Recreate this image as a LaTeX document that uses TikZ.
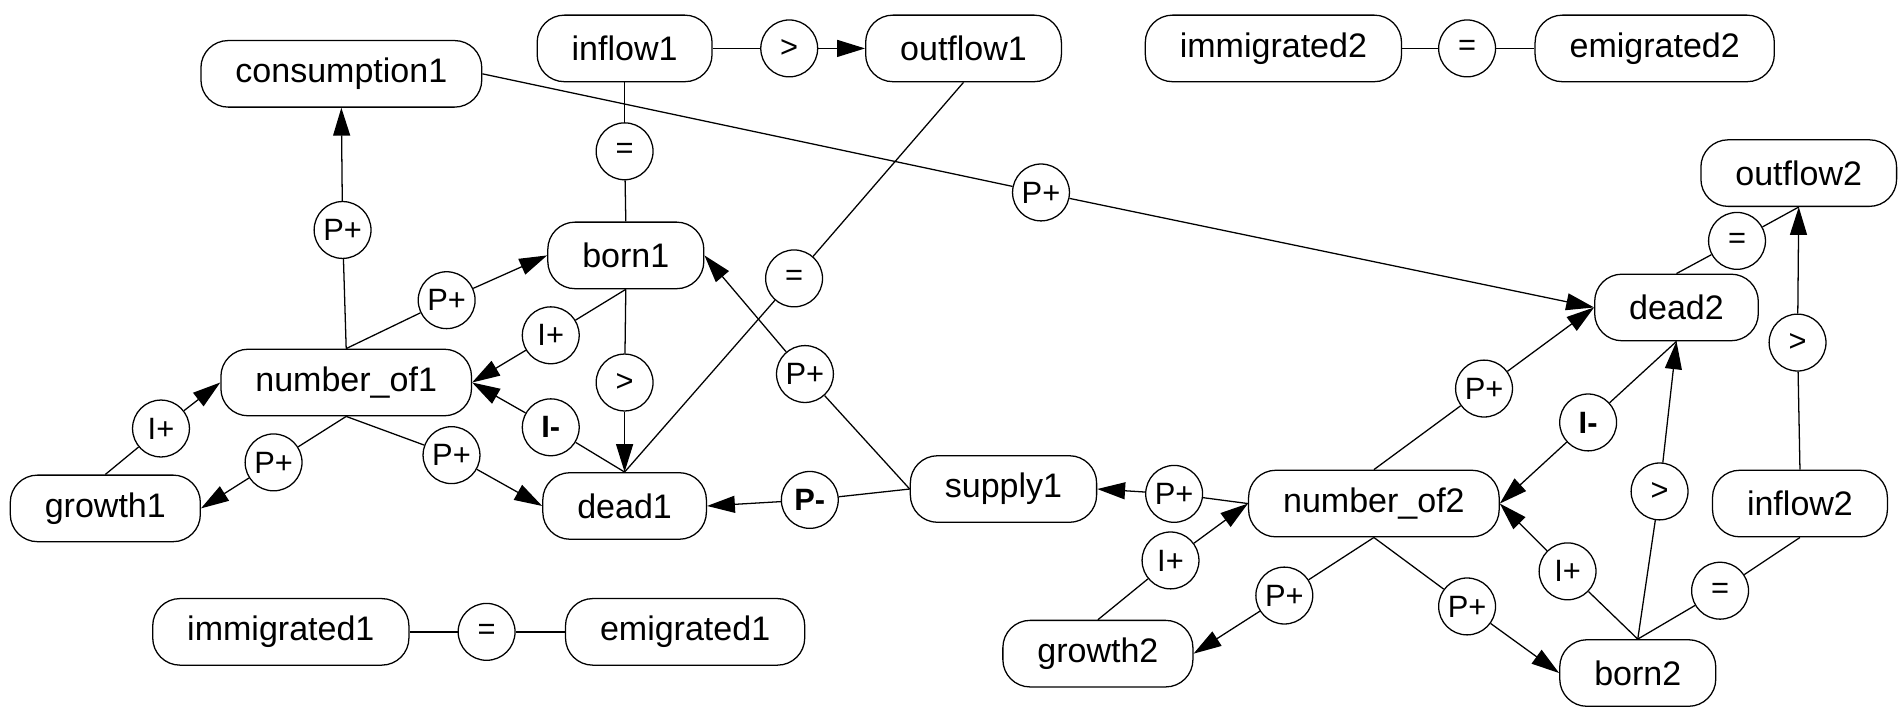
\documentclass[tikz,border=0pt]{standalone}
\usepackage{fontspec}
\setmainfont{Liberation Sans}
\usetikzlibrary{arrows.meta}

\begin{document}
\begin{tikzpicture}[x=0.02cm,y=-0.02cm,line width=0.6pt,->,>={Triangle[length=0.46cm,width=0.28cm]},
  qty/.style={draw,rounded corners=0.45cm,minimum height=1.1cm,inner xsep=0.57cm,font=\fontsize{16}{19}\selectfont},
  rel/.style={circle,draw,minimum size=0.94cm,inner sep=0pt,font=\fontsize{14.5}{17}\selectfont}]
  \useasboundingbox (0,0) rectangle (1568,584);

  % quantities
  \node[qty] (cons1) at (282,61) {consumption1};
  \node[qty] (in1) at (516,40) {inflow1};
  \node[qty] (out1) at (796,40) {outflow1};
  \node[qty] (imm2) at (1052,40) {immigrated2};
  \node[qty] (emi2) at (1367,40) {emigrated2};
  \node[qty] (born1) at (517,211) {born1};
  \node[qty] (out2) at (1486,143) {outflow2};
  \node[qty] (dead2) at (1385,254) {dead2};
  \node[qty] (nof1) at (286,316) {number\_of1};
  \node[qty] (grow1) at (87,420) {growth1};
  \node[qty] (dead1) at (516,418) {dead1};
  \node[qty] (sup1) at (829,404) {supply1};
  \node[qty] (nof2) at (1135,416) {number\_of2};
  \node[qty] (in2) at (1487,416) {inflow2};
  \node[qty] (imm1) at (232,522) {immigrated1};
  \node[qty] (emi1) at (566,522) {emigrated1};
  \node[qty] (grow2) at (907,540) {growth2};
  \node[qty] (born2) at (1353,556) {born2};

  % relations
  \node[rel] (r1) at (652,40) {>};
  \node[rel] (r2) at (516,125) {=};
  \node[rel] (r3) at (860,159) {P+};
  \node[rel] (r4) at (283,190) {P+};
  \node[rel] (r5) at (369,248) {P+};
  \node[rel] (r6) at (656,230) {=};
  \node[rel] (r7) at (455,277) {I+};
  \node[rel] (r8) at (516,316) {>};
  \node[rel] (r9) at (665,309) {P+};
  \node[rel] (r10) at (455,353) {\bfseries I-};
  \node[rel] (r11) at (133,354) {I+};
  \node[rel] (r12) at (226,382) {P+};
  \node[rel] (r13) at (373,376) {P+};
  \node[rel] (r14) at (669,413) {\bfseries P-};
  \node[rel] (r15) at (970,408) {P+};
  \node[rel] (r16) at (402,522) {=};
  \node[rel] (r17) at (1212,40) {=};
  \node[rel] (r18) at (1435,199) {=};
  \node[rel] (r19) at (1485,283) {>};
  \node[rel] (r20) at (1226,321) {P+};
  \node[rel] (r21) at (1312,349) {\bfseries I-};
  \node[rel] (r22) at (1371,406) {>};
  \node[rel] (r23) at (967,463) {I+};
  \node[rel] (r24) at (1295,472) {I+};
  \node[rel] (r25) at (1421,488) {=};
  \node[rel] (r26) at (1061,492) {P+};
  \node[rel] (r27) at (1212,501) {P+};

\path
  (in1.east) edge[-] (r1) (r1) edge (out1.west)
  (in1.south) edge[-] (r2) (r2) edge[-] (born1.north)
  (cons1.east) edge[-] (r3) (r3) edge (dead2.west)
  (nof1.north) edge[-] (r4) (r4) edge (cons1.south)
  (nof1.north) edge[-] (r5) (r5) edge (born1.west)
  (out1.south) edge[-] (r6) (r6) edge[-] (dead1.north)
  (born1.south) edge[-] (r7) (r7) edge (nof1.east)
  (born1.south) edge[-] (r8) (r8) edge (dead1.north)
  (sup1.west) edge[-] (r9) (r9) edge (born1.east)
  (dead1.north) edge[-] (r10) (r10) edge (nof1.east)
  (grow1.north) edge[-] (r11) (r11) edge (nof1.west)
  (nof1.south) edge[-] (r12) (r12) edge (grow1.east)
  (nof1.south) edge[-] (r13) (r13) edge (dead1.west)
  (sup1.west) edge[-] (r14) (r14) edge (dead1.east)
  (nof2.west) edge[-] (r15) (r15) edge (sup1.east)
  (imm1) edge[-] (r16) (r16) edge[-] (emi1)
  (imm2) edge[-] (r17) (r17) edge[-] (emi2)
  (dead2.north) edge[-] (r18) (r18) edge[-] (out2.south)
  (in2.north) edge[-] (r19) (r19) edge (out2.south)
  (nof2.north) edge[-] (r20) (r20) edge (dead2.west)
  (dead2.south) edge[-] (r21) (r21) edge (nof2.east)
  (born2.north) edge[-] (r22) (r22) edge (dead2.south)
  (grow2.north) edge[-] (r23) (r23) edge (nof2.west)
  (born2.north) edge[-] (r24) (r24) edge (nof2.east)
  (born2.north) edge[-] (r25) (r25) edge[-] (in2.south)
  (nof2.south) edge[-] (r26) (r26) edge (grow2.east)
  (nof2.south) edge[-] (r27) (r27) edge (born2.west)
;
\end{tikzpicture}
\end{document}
